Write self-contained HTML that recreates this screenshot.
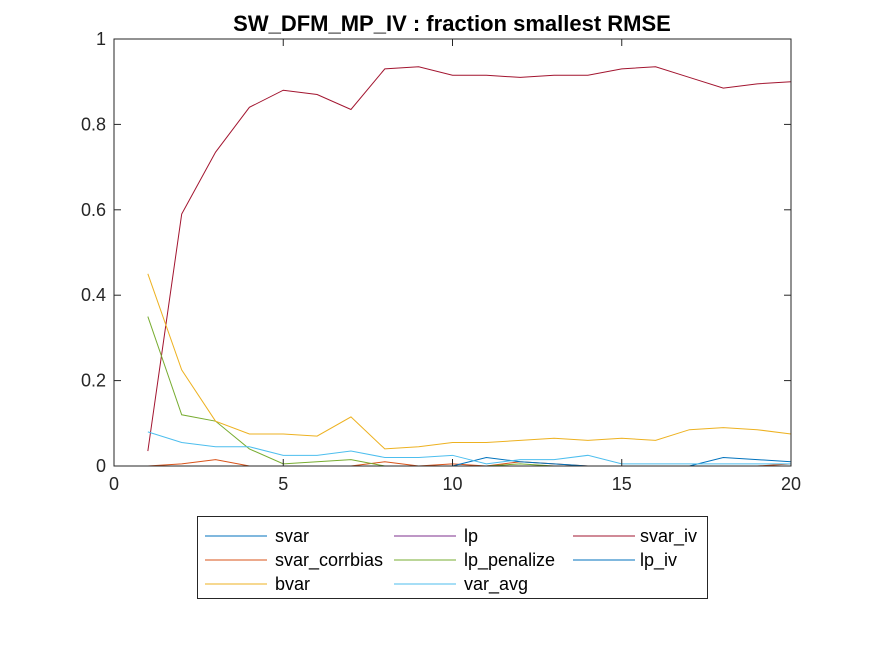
<!DOCTYPE html>
<html><head><meta charset="utf-8"><style>
html,body{margin:0;padding:0;background:#fff;}
svg{display:block;font-family:"Liberation Sans",Arial,sans-serif;}
</style></head><body>
<svg id="chart" width="875" height="656" viewBox="0 0 875 656">
<rect width="875" height="656" fill="#fff"/>
<text x="452" y="31" text-anchor="middle" font-size="22" font-weight="bold" fill="#000">SW_DFM_MP_IV : fraction smallest RMSE</text>
<g id="plot"></g>
<g id="axes"></g>
<g id="legend"></g>
</svg>
<script>
const horizons = [1,2,3,4,5,6,7,8,9,10,11,12,13,14,15,16,17,18,19,20];
const seriesNames = ["svar","lp","svar_iv","svar_corrbias","lp_penalize","lp_iv","bvar","var_avg"];
const seriesColors = ["#0072BD","#7E2F8E","#A2142F","#D95319","#77AC30","#0072BD","#EDB120","#4DBEEE"];
const svar = [0,0,0,0,0,0,0,0,0,0,0,0,0,0,0,0,0,0,0,0];
const lp = [0,0,0,0,0,0,0,0,0,0,0,0,0,0,0,0,0,0,0,0];
const svar_iv = [0.035,0.59,0.735,0.84,0.88,0.87,0.835,0.93,0.935,0.915,0.915,0.91,0.915,0.915,0.93,0.935,0.91,0.885,0.895,0.9];
const svar_corrbias = [0,0.005,0.015,0,0,0,0,0.01,0,0.005,0,0.01,0.005,0,0,0,0,0,0,0.005];
const lp_penalize = [0.35,0.12,0.105,0.04,0.005,0.01,0.015,0,0,0,0,0.005,0,0,0,0,0,0,0,0];
const lp_iv = [0,0,0,0,0,0,0,0,0,0,0.02,0.01,0.005,0,0,0,0,0.02,0.015,0.01];
const bvar = [0.45,0.225,0.105,0.075,0.075,0.07,0.115,0.04,0.045,0.055,0.055,0.06,0.065,0.06,0.065,0.06,0.085,0.09,0.085,0.075];
const var_avg = [0.08,0.055,0.045,0.045,0.025,0.025,0.035,0.02,0.02,0.025,0.005,0.015,0.015,0.025,0.005,0.005,0.005,0.005,0.005,0.005];
const xTicks = [0,5,10,15,20];
const yTicks = [0,0.2,0.4,0.6,0.8,1];
const yTickLabels = ["0","0.2","0.4","0.6","0.8","1"];

const L=114,R=791,T=39,B=466;
const xScale=v=>L+(v-0)/(20-0)*(R-L);
const yScale=v=>B-(v-0)/(1-0)*(B-T);
const NS="http://www.w3.org/2000/svg";
function mk(tag,attrs,parent){const e=document.createElementNS(NS,tag);for(const k in attrs)e.setAttribute(k,attrs[k]);parent.appendChild(e);return e;}
const plot=document.getElementById('plot'),axes=document.getElementById('axes'),legend=document.getElementById('legend');
const allSeries=[svar,lp,svar_iv,svar_corrbias,lp_penalize,lp_iv,bvar,var_avg];
allSeries.forEach((s,i)=>{
  const pts=s.map((v,j)=>xScale(horizons[j]).toFixed(2)+","+yScale(v).toFixed(2)).join(" ");
  const pl=mk('polyline',{points:pts,fill:'none',stroke:seriesColors[i],'stroke-width':1},plot);
  
  
});
const box=mk('rect',{x:L,y:T,width:R-L,height:B-T,fill:'none',stroke:'#262626','stroke-width':1},axes);


xTicks.forEach(t=>{
  const x=xScale(t);
  mk('line',{x1:x,y1:B,x2:x,y2:B-7,stroke:'#262626'},axes);
  mk('line',{x1:x,y1:T,x2:x,y2:T+7,stroke:'#262626'},axes);
  const tx=mk('text',{x:x,y:B+24,'text-anchor':'middle','font-size':18,fill:'#262626'},axes);
  tx.textContent=t;
  
  
});
yTicks.forEach((t,i)=>{
  const y=yScale(t);
  mk('line',{x1:L,y1:y,x2:L+7,y2:y,stroke:'#262626'},axes);
  mk('line',{x1:R,y1:y,x2:R-7,y2:y,stroke:'#262626'},axes);
  const tx=mk('text',{x:L-8,y:y+6,'text-anchor':'end','font-size':18,fill:'#262626'},axes);
  tx.textContent=yTickLabels[i];
  
  
});
const lb=mk('rect',{x:197.5,y:516.5,width:510,height:82,fill:'#fff',stroke:'#262626','stroke-width':1},legend);


const colX=[205,394,573],rowY=[536,560,584];
seriesNames.forEach((n,i)=>{
  const c=i%3,r=Math.floor(i/3);
  const g=mk('g',{},legend);
  
  
  mk('line',{x1:colX[c],y1:rowY[r],x2:colX[c]+62,y2:rowY[r],stroke:seriesColors[i],'stroke-width':1},g);
  const t=mk('text',{x:colX[c]+(c==2?67:70),y:rowY[r]+6,'font-size':18,fill:'#000'},g);
  t.textContent=n;
});
</script>
</body></html>
